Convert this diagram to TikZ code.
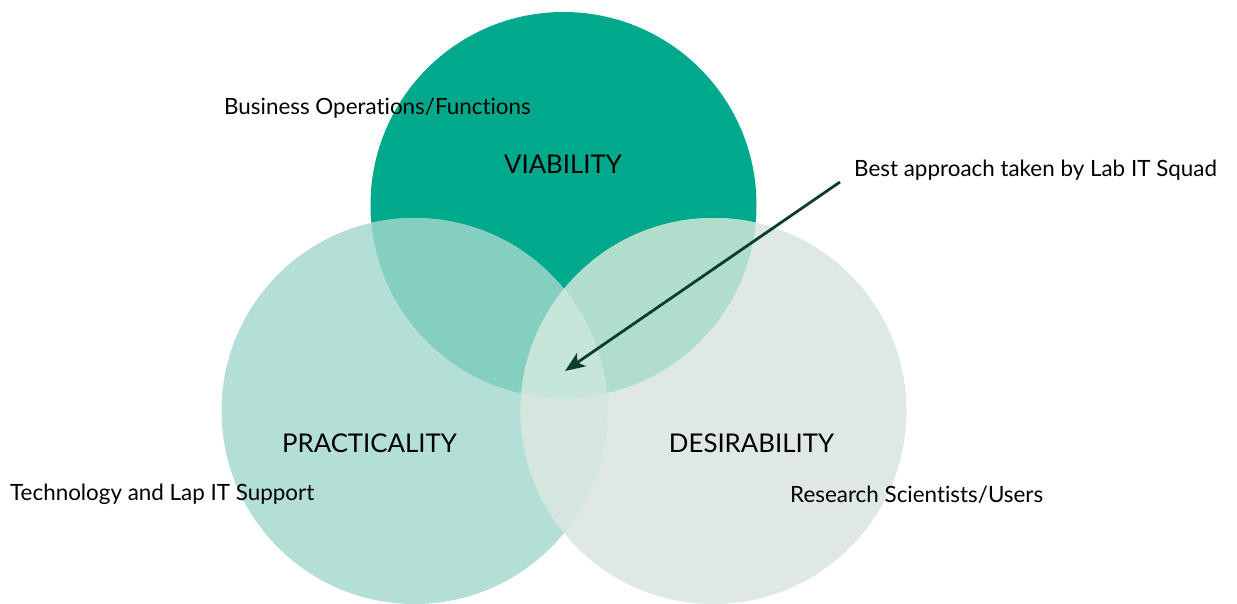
\documentclass[tikz,border=0pt]{standalone}
\usepackage{fontspec}
\setmainfont{Lato}[Ligatures=NoCommon]
\usetikzlibrary{arrows.meta}
\definecolor{ctop}{HTML}{00A98B}
\definecolor{cleft}{HTML}{B3DFD6}
\definecolor{cright}{HTML}{DDE9E2}
\definecolor{ctl}{HTML}{84CFC0}
\definecolor{ctr}{HTML}{B0DDCC}
\definecolor{clr}{HTML}{D4E6DD}
\definecolor{call}{HTML}{C7E6DA}
\definecolor{carrow}{HTML}{0B3D2E}
\begin{document}
\begin{tikzpicture}[x=1pt,y=-1pt,
  small/.style={font=\fontsize{22.4}{26}\selectfont, inner sep=0pt},
  big/.style={font=\fontsize{25.8}{30}\selectfont, inner sep=0pt}]
\useasboundingbox (0,0) rectangle (1237,604);
\def\R{193}
\coordinate (ct) at (563.5,205);
\coordinate (cl) at (414.5,411);
\coordinate (cr) at (713.5,411);
\fill[ctop] (ct) circle (\R);
\fill[cleft] (cl) circle (\R);
\fill[cright] (cr) circle (\R);
\begin{scope}
  \clip (ct) circle (\R);
  \fill[ctl] (cl) circle (\R);
  \fill[ctr] (cr) circle (\R);
\end{scope}
\begin{scope}
  \clip (cl) circle (\R);
  \fill[clr] (cr) circle (\R);
  \clip (ct) circle (\R);
  \fill[call] (cr) circle (\R);
\end{scope}
\node[small, anchor=west] (bus) at (224,108.5) {Business Operations/Functions};
\node[big] (via) at (563,164.5) {VIABILITY};
\node[big] (pra) at (369.5,443.5) {PRACTICALITY};
\node[big] (des) at (751.5,443.5) {DESIRABILITY};
\node[small, anchor=west] (tec) at (10,494.5) {Technology and Lap IT Support};
\node[small, anchor=west] (res) at (790,494.5) {Research Scientists/Users};
\node[small, anchor=west] (best) at (854,170.5) {Best approach taken by Lab IT Squad};
\coordinate (astart) at (840,182);
\coordinate (aend) at (565,371);
\draw[carrow, line width=2.8pt, -{Stealth[length=20pt,width=16pt,inset=5pt]}] (astart) -- (aend);
\end{tikzpicture}
\end{document}
